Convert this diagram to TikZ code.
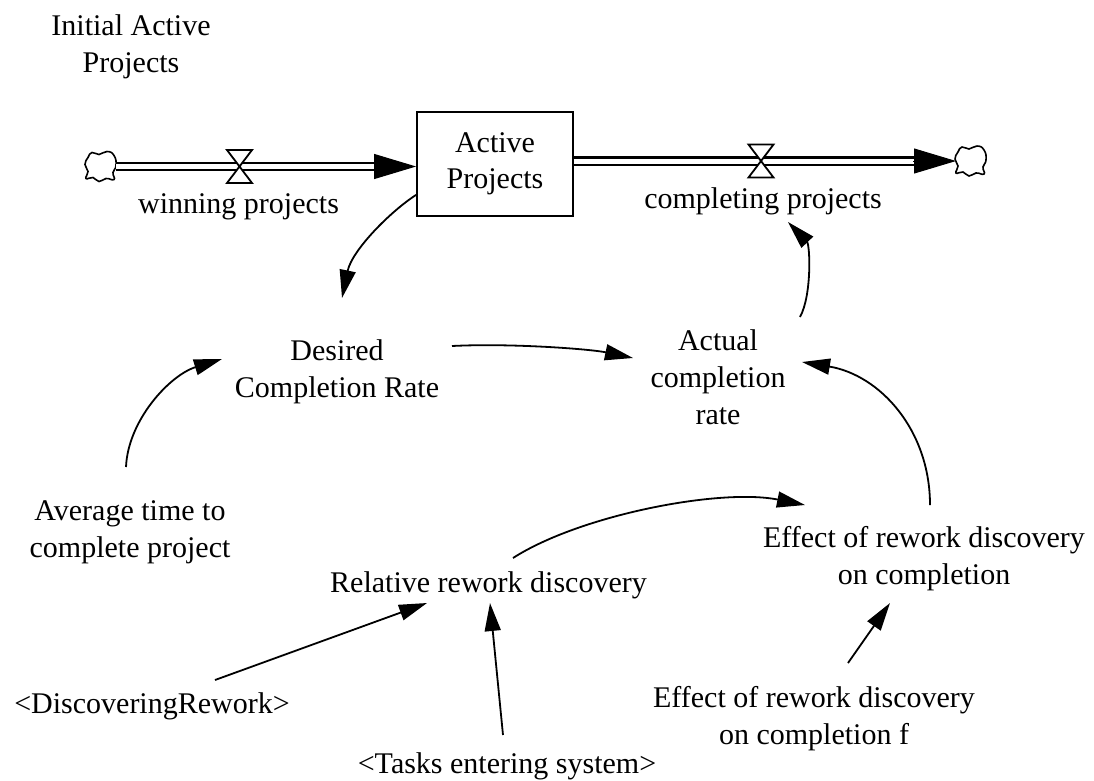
\documentclass[tikz,border=0pt]{standalone}
\usepackage{fontspec}
\setmainfont{Liberation Serif}
\usetikzlibrary{arrows.meta}
\begin{document}
\begin{tikzpicture}[x=1pt,y=-1pt,
  lbl/.style={anchor=base, align=center, inner sep=0pt, font=\fontsize{30}{37}\selectfont},
  stockbox/.style={draw, line width=1.8pt, minimum width=156pt, minimum height=104pt,
    inner sep=0pt, align=center, font=\fontsize{30}{36}\selectfont},
  link/.style={line width=1.8pt, -{Triangle[length=28pt,width=16pt]}},
  pipe/.style={line width=2.3pt, double=white, double distance=5pt},
  flowhead/.style={line width=1pt, -{Triangle[length=42pt,width=25pt]}},
  valveshape/.style={draw, line width=1.8pt, fill=white, line join=miter},
  cloudshape/.style={draw, line width=1.6pt, fill=white}
]
\useasboundingbox (0,0) rectangle (1094,780);

% stock
\node[stockbox] (stock) at (495,164) {Active\\Projects};

% sources and sinks (anchor "base" of a multi-line label is its last baseline)
\coordinate (cloudL) at (101,166.5);
\coordinate (cloudR) at (971,161);
\foreach \c in {cloudL,cloudR}{
  \draw[cloudshape, shift={(\c)}] plot[smooth cycle, tension=0.9] coordinates
    {(15,-1) (12,6) (13,13) (5,12) (-2,15) (-8,11) (-15,12) (-13,5) (-16,-2)
     (-13,-9) (-9,-14) (-2,-12) (6,-15) (13,-11)};
}

% inflow pipe
\coordinate (inL) at (stock.west |- cloudL);
\draw[pipe] ([xshift=15pt]cloudL) -- ([xshift=-38pt]inL);
\draw[flowhead] ([xshift=-41pt]inL) -- (inL);

% outflow pipe
\coordinate (outR) at (stock.east |- cloudR);
\draw[pipe] (outR) -- ([xshift=-54pt]cloudR);
\draw[flowhead] ([xshift=-58pt]cloudR) -- ([xshift=-15pt]cloudR);

% valves
\coordinate (valveL) at (239.5,166.5);
\coordinate (valveR) at (761,161);
\foreach \v in {valveL,valveR}{
  \draw[valveshape] ([shift={(-12.5,-16.5)}]\v) -- ([shift={(12.5,-16.5)}]\v)
    -- ([shift={(-12.5,16.5)}]\v) -- ([shift={(12.5,16.5)}]\v) -- cycle;
}

% variables
\node[lbl] (init) at (131,72) {Initial Active\\Projects};
\node[lbl] (winning) at (238.5,213) {winning projects};
\node[lbl] (completing) at (763,208) {completing projects};
\node[lbl] (desired) at (337,397) {Desired\\Completion Rate};
\node[lbl] (actual) at (718,424) {Actual\\completion\\rate};
\node[lbl] (average) at (130,557) {Average time to\\complete project};
\node[lbl] (relative) at (488.5,592) {Relative rework discovery};
\node[lbl] (effect) at (924,584) {Effect of rework discovery\\on completion};
\node[lbl] (discovering) at (152,713) {<DiscoveringRework>};
\node[lbl] (tasks) at (507,773) {<Tasks entering system>};
\node[lbl] (effectf) at (814,744) {Effect of rework discovery\\on completion f};

% causal links
\draw[link] ([yshift=22pt]stock.south west)
  .. controls +(-25,16) and +(10,-48) .. ([xshift=5pt,yshift=99pt]desired.base);
\draw[link] ([xshift=115pt,yshift=51pt]desired.base)
  .. controls +(58,-3) and +(-43,-9) .. ([xshift=-85pt,yshift=66pt]actual.base);
\draw[link] ([xshift=82pt,yshift=107pt]actual.base)
  .. controls +(12,-22) and +(22,23) .. ([xshift=25pt,yshift=-14pt]completing.base);
\draw[link] ([xshift=-4pt,yshift=90pt]average.base)
  .. controls +(2,-47) and +(-52,16) .. ([xshift=-115pt,yshift=38pt]desired.base);
\draw[link] ([xshift=6pt,yshift=79pt]effect.base)
  .. controls +(0,-75) and +(78,13) .. ([xshift=84pt,yshift=62pt]actual.base);
\draw[link] ([xshift=24.5pt,yshift=34pt]relative.base)
  .. controls +(67,-43) and +(-85,-17) .. ([xshift=-119pt,yshift=79pt]effect.base);
\draw[link] ([xshift=63pt,yshift=33pt]discovering.base) -- ([xshift=-61.5pt,yshift=-11pt]relative.base);
\draw[link] ([xshift=-4pt,yshift=38pt]tasks.base) -- ([xshift=1.5pt,yshift=-11pt]relative.base);
\draw[link] ([xshift=34pt,yshift=81pt]effectf.base) -- ([xshift=-34pt,yshift=-19pt]effect.base);
\end{tikzpicture}
\end{document}
